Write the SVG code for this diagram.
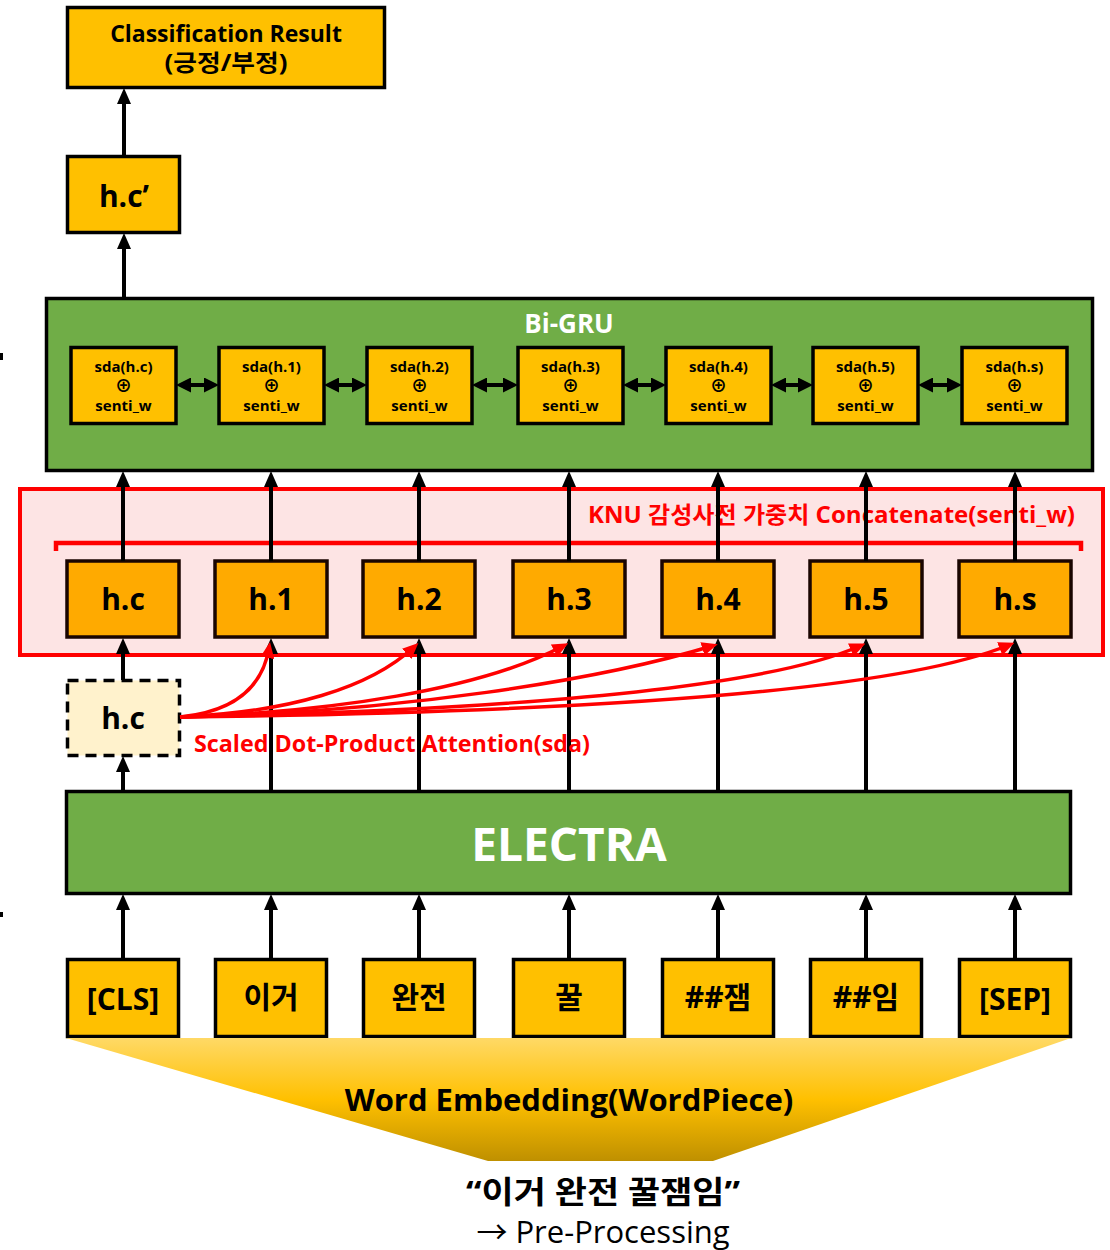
<svg xmlns="http://www.w3.org/2000/svg" width="1110" height="1250" viewBox="0 0 1110 1250">
<style>
.t{font-family:"Open Sans","Noto Sans CJK KR",sans-serif;font-weight:bold;text-anchor:middle}
.box{fill:#FFC000;stroke:#000;stroke-width:3.5}
.hbox{fill:#FFAA00;stroke:#1a0500;stroke-width:3.5}
.gru{fill:#FFC000;stroke:#000;stroke-width:3.5}
.green{fill:#70AD47;stroke:#000;stroke-width:3.5}
.ln{stroke:#000;stroke-width:4;fill:none;marker-end:url(#ah)}
.dl{stroke:#000;stroke-width:4;fill:none;marker-end:url(#ahs);marker-start:url(#ahs)}
.rl{stroke:#FF0000;stroke-width:3.5;fill:none;marker-end:url(#ahr)}
</style>
<defs>
<marker id="ah" markerUnits="userSpaceOnUse" markerWidth="16" markerHeight="14" viewBox="0 0 16 14" refX="10" refY="7" orient="auto"><path d="M0,0 L16,7 L0,14 z" fill="#000"/></marker>
<marker id="ahs" markerUnits="userSpaceOnUse" markerWidth="15" markerHeight="15" viewBox="0 0 15 15" refX="9" refY="7.5" orient="auto-start-reverse"><path d="M0,0 L15,7.5 L0,15 z" fill="#000"/></marker>
<marker id="ahr" markerUnits="userSpaceOnUse" markerWidth="16" markerHeight="14" viewBox="0 0 16 14" refX="10" refY="7" orient="auto"><path d="M0,0 L16,7 L0,14 z" fill="#FF0000"/></marker>
<linearGradient id="fun" x1="0" y1="0" x2="0" y2="1">
<stop offset="0" stop-color="#FFD966"/>
<stop offset="0.5" stop-color="#FFC000"/>
<stop offset="1" stop-color="#BF9000"/>
</linearGradient>
</defs>

<rect x="0" y="353" width="3" height="7" fill="#000"/>
<rect x="0" y="912" width="3" height="5" fill="#000"/>

<g id="result"><rect class="box" x="67.5" y="7.5" width="317" height="80"/>
<text class="t" x="226" y="42" font-size="23">Classification Result</text>
<text class="t" x="226" y="71" font-size="23" textLength="123" lengthAdjust="spacingAndGlyphs">(긍정/부정)</text></g>

<g id="hcprime"><rect class="box" x="67.5" y="156.5" width="112" height="76"/>
<text class="t" x="124" y="207" font-size="30">h.c’</text></g>

<g id="bigru"><rect class="green" x="46.5" y="298.5" width="1046" height="172"/>
<text class="t" x="569" y="333" font-size="26" fill="#fff">Bi-GRU</text></g>

<g id="gru-c"><rect class="gru" x="71" y="347.5" width="105" height="76"/><text class="t" x="123.5" y="372" font-size="15">sda(h.c)</text><text class="t" x="123.5" y="392" font-size="17">⊕</text><text class="t" x="123.5" y="411" font-size="15">senti_w</text></g>
<g id="gru-1"><rect class="gru" x="219" y="347.5" width="105" height="76"/><text class="t" x="271.5" y="372" font-size="15">sda(h.1)</text><text class="t" x="271.5" y="392" font-size="17">⊕</text><text class="t" x="271.5" y="411" font-size="15">senti_w</text></g>
<g id="gru-2"><rect class="gru" x="367" y="347.5" width="105" height="76"/><text class="t" x="419.5" y="372" font-size="15">sda(h.2)</text><text class="t" x="419.5" y="392" font-size="17">⊕</text><text class="t" x="419.5" y="411" font-size="15">senti_w</text></g>
<g id="gru-3"><rect class="gru" x="518" y="347.5" width="105" height="76"/><text class="t" x="570.5" y="372" font-size="15">sda(h.3)</text><text class="t" x="570.5" y="392" font-size="17">⊕</text><text class="t" x="570.5" y="411" font-size="15">senti_w</text></g>
<g id="gru-4"><rect class="gru" x="666" y="347.5" width="105" height="76"/><text class="t" x="718.5" y="372" font-size="15">sda(h.4)</text><text class="t" x="718.5" y="392" font-size="17">⊕</text><text class="t" x="718.5" y="411" font-size="15">senti_w</text></g>
<g id="gru-5"><rect class="gru" x="813" y="347.5" width="105" height="76"/><text class="t" x="865.5" y="372" font-size="15">sda(h.5)</text><text class="t" x="865.5" y="392" font-size="17">⊕</text><text class="t" x="865.5" y="411" font-size="15">senti_w</text></g>
<g id="gru-s"><rect class="gru" x="962" y="347.5" width="105" height="76"/><text class="t" x="1014.5" y="372" font-size="15">sda(h.s)</text><text class="t" x="1014.5" y="392" font-size="17">⊕</text><text class="t" x="1014.5" y="411" font-size="15">senti_w</text></g>

<g id="knu"><rect x="20" y="489" width="1083" height="166" fill="#FDE4E4" stroke="#FF0000" stroke-width="4"/>
<text x="588" y="523" font-size="23" font-weight="bold" fill="#FF0000" font-family="'Open Sans','Noto Sans CJK KR',sans-serif" textLength="487" lengthAdjust="spacingAndGlyphs">KNU 감성사전 가중치 Concatenate(senti_w)</text>
<path d="M56,551 V543 H1081 V551" fill="none" stroke="#FF0000" stroke-width="4.5"/></g>

<g id="h-c"><rect class="hbox" x="67" y="561" width="112" height="76"/><text class="t" x="123" y="610" font-size="30">h.c</text></g>
<g id="h-1"><rect class="hbox" x="215" y="561" width="112" height="76"/><text class="t" x="271" y="610" font-size="30">h.1</text></g>
<g id="h-2"><rect class="hbox" x="363" y="561" width="112" height="76"/><text class="t" x="419" y="610" font-size="30">h.2</text></g>
<g id="h-3"><rect class="hbox" x="513" y="561" width="112" height="76"/><text class="t" x="569" y="610" font-size="30">h.3</text></g>
<g id="h-4"><rect class="hbox" x="662" y="561" width="112" height="76"/><text class="t" x="718" y="610" font-size="30">h.4</text></g>
<g id="h-5"><rect class="hbox" x="810" y="561" width="112" height="76"/><text class="t" x="866" y="610" font-size="30">h.5</text></g>
<g id="h-s"><rect class="hbox" x="959" y="561" width="112" height="76"/><text class="t" x="1015" y="610" font-size="30">h.s</text></g>

<g id="hc-dashed"><rect x="67.5" y="680.5" width="112" height="75" fill="#FFF2CC" stroke="#000" stroke-width="3.5" stroke-dasharray="11,7"/>
<text class="t" x="123" y="729" font-size="30">h.c</text></g>

<g id="electra"><rect class="green" x="66.5" y="791.5" width="1004" height="102"/>
<text class="t" x="569" y="861" font-size="46" fill="#fff">ELECTRA</text></g>

<g id="tok-cls"><rect class="box" x="67.5" y="959.5" width="111" height="77"/><text class="t" x="123" y="1010" font-size="30">[CLS]</text></g>
<g id="tok-1"><rect class="box" x="215.5" y="959.5" width="111" height="77"/><text class="t" x="271" y="1008" font-size="30">이거</text></g>
<g id="tok-2"><rect class="box" x="363.5" y="959.5" width="111" height="77"/><text class="t" x="419" y="1008" font-size="30">완전</text></g>
<g id="tok-3"><rect class="box" x="513.5" y="959.5" width="111" height="77"/><text class="t" x="569" y="1008" font-size="30">꿀</text></g>
<g id="tok-4"><rect class="box" x="662.5" y="959.5" width="111" height="77"/><text class="t" x="718" y="1008" font-size="30">##잼</text></g>
<g id="tok-5"><rect class="box" x="810.5" y="959.5" width="111" height="77"/><text class="t" x="866" y="1008" font-size="30">##임</text></g>
<g id="tok-sep"><rect class="box" x="959.5" y="959.5" width="111" height="77"/><text class="t" x="1015" y="1010" font-size="30">[SEP]</text></g>

<g id="embedding"><polygon points="66,1038 1071,1038 713,1161 488,1161" fill="url(#fun)"/>
<text class="t" x="569" y="1111" font-size="31">Word Embedding(WordPiece)</text></g>

<g id="input"><text class="t" x="603" y="1203" font-size="31" textLength="274" lengthAdjust="spacingAndGlyphs">“이거 완전 꿀잼임”</text>
<text x="603" y="1243" font-size="31" font-family="'Open Sans','Noto Sans CJK KR',sans-serif" text-anchor="middle">→ Pre-Processing</text></g>

<g id="connectors">
<path class="ln" d="M124,156 V94"/>
<path class="ln" d="M124,298 V239"/>
<path class="dl" d="M182,385 H213"/>
<path class="dl" d="M330,385 H361"/>
<path class="dl" d="M478,385 H512"/>
<path class="dl" d="M629,385 H660"/>
<path class="dl" d="M777,385 H807"/>
<path class="dl" d="M924,385 H956"/>
<path class="ln" d="M123,561 V477"/>
<path class="ln" d="M271,561 V477"/>
<path class="ln" d="M419,561 V477"/>
<path class="ln" d="M569,561 V477"/>
<path class="ln" d="M718,561 V477"/>
<path class="ln" d="M866,561 V477"/>
<path class="ln" d="M1015,561 V477"/>
<path class="ln" d="M123,680 V644"/>
<path class="ln" d="M123,791 V762"/>
<path class="ln" d="M271,791 V644"/>
<path class="ln" d="M419,791 V644"/>
<path class="ln" d="M569,791 V644"/>
<path class="ln" d="M718,791 V644"/>
<path class="ln" d="M866,791 V644"/>
<path class="ln" d="M1015,791 V644"/>
<path class="ln" d="M123,959 V900"/>
<path class="ln" d="M271,959 V900"/>
<path class="ln" d="M419,959 V900"/>
<path class="ln" d="M569,959 V900"/>
<path class="ln" d="M718,959 V900"/>
<path class="ln" d="M866,959 V900"/>
<path class="ln" d="M1015,959 V900"/>
<path class="rl" d="M180,717 C230,712 262,690 269,648"/>
<path class="rl" d="M180,717 C290,712 370,688 414,647"/>
<path class="rl" d="M180,717 C330,712 480,690 563,646"/>
<path class="rl" d="M180,717 C400,712 600,680 712,646"/>
<path class="rl" d="M180,717 C500,710 760,690 860,646"/>
<path class="rl" d="M180,717 C600,712 900,690 1009,645"/>
</g>
<text x="194" y="752" font-size="23" font-weight="bold" fill="#FF0000" font-family="'Open Sans','Noto Sans CJK KR',sans-serif" textLength="396" lengthAdjust="spacingAndGlyphs">Scaled Dot-Product Attention(sda)</text>
</svg>
